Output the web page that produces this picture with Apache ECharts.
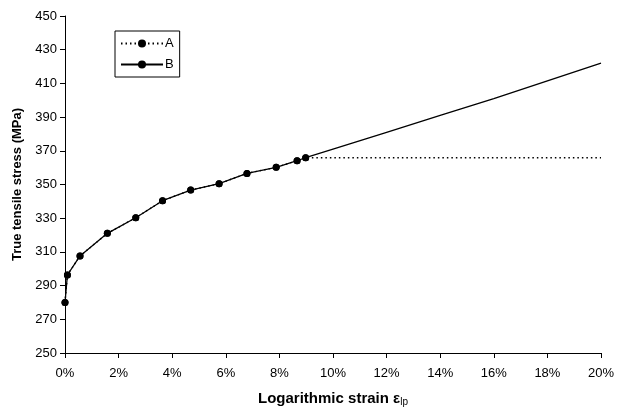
<!DOCTYPE html>
<html><head><meta charset="utf-8">
<script src="https://cdn.jsdelivr.net/npm/echarts@6/dist/echarts.min.js"></script>
<style>html,body{margin:0;padding:0;background:#fff}#c{width:625px;height:415px}</style>
</head><body><div id="c"></div>
<script>
// measured points (strain %, stress MPa)
const strainPts = [0, 0.09, 0.56, 1.58, 2.64, 3.64, 4.69, 5.75, 6.79, 7.88, 8.66, 8.98];
const stressPts = [280, 296.3, 307.6, 321, 330.3, 340.4, 346.7, 350.5, 356.6, 360.2, 364.1, 365.9];
// series A continuation (constant)
const strainA = [20];
const stressA = [365.9];
// series B continuation (linear hardening)
const strainB = [10, 12, 14, 16, 18, 20];
const stressB = [371, 381, 391, 401, 411.5, 422];
const xTicks = [0, 2, 4, 6, 8, 10, 12, 14, 16, 18, 20];
const yTicks = [250, 270, 290, 310, 330, 350, 370, 390, 410, 430, 450];

const measured = strainPts.map((x, i) => [x, stressPts[i]]);
const dataA = measured.concat(strainA.map((x, i) => ({value: [x, stressA[i]], symbol: 'none'})));
const dataB = measured.concat(strainB.map((x, i) => ({value: [x, stressB[i]], symbol: 'none'})));

const font = 'Liberation Sans, Arial, sans-serif';
const chart = echarts.init(document.getElementById('c'), null, {renderer: 'canvas'});
chart.setOption({
  animation: false,
  backgroundColor: '#fff',
  grid: {left: 65, right: 24, top: 16, bottom: 62},
  legend: {
    orient: 'vertical', left: 115, top: 31,
    data: ['A', 'B'],
    borderColor: '#000', borderWidth: 1, borderRadius: 0,
    padding: [6, 6, 6, 5], itemGap: 8,
    itemWidth: 42, itemHeight: 10,
    textStyle: {fontFamily: font, fontSize: 13, color: '#000', padding: [0, 0, 0, -3]}
  },
  xAxis: {
    type: 'value', min: 0, max: 20, interval: 2,
    axisLine: {show: true, lineStyle: {color: '#000', width: 1}},
    axisTick: {show: true, length: 5, lineStyle: {color: '#000'}},
    splitLine: {show: false},
    axisLabel: {formatter: '{value}%', fontFamily: font, fontSize: 13, color: '#000', margin: 14},
    name: '{t|Logarithmic strain }{e|ε}{s|lp}',
    nameLocation: 'middle', nameGap: 38,
    nameTextStyle: {
      rich: {
        t: {fontFamily: font, fontSize: 15, fontWeight: 'bold', color: '#000'},
        e: {fontFamily: font, fontSize: 15, fontWeight: 'bold', color: '#000'},
        s: {fontFamily: font, fontSize: 10, color: '#000', verticalAlign: 'bottom', padding: [6, 0, 0, 0]}
      }
    }
  },
  yAxis: {
    type: 'value', min: 250, max: 450, interval: 20,
    axisLine: {show: true, lineStyle: {color: '#000', width: 1}},
    axisTick: {show: true, length: 5, lineStyle: {color: '#000'}},
    splitLine: {show: false},
    axisLabel: {fontFamily: font, fontSize: 13, color: '#000', margin: 8},
    name: 'True tensile stress (MPa)',
    nameLocation: 'middle', nameGap: 39,
    nameTextStyle: {fontFamily: font, fontSize: 13, fontWeight: 'bold', color: '#000'}
  },
  series: [
    {
      name: 'A', type: 'line', data: dataA,
      symbol: 'circle', symbolSize: 7,
      itemStyle: {color: '#000'},
      lineStyle: {color: '#000', width: 1.4, type: [1.5, 3]},
      z: 2
    },
    {
      name: 'B', type: 'line', data: dataB,
      symbol: 'circle', symbolSize: 7,
      itemStyle: {color: '#000'},
      lineStyle: {color: '#000', width: 1.3, type: 'solid'},
      z: 3
    }
  ]
});
</script></body></html>
